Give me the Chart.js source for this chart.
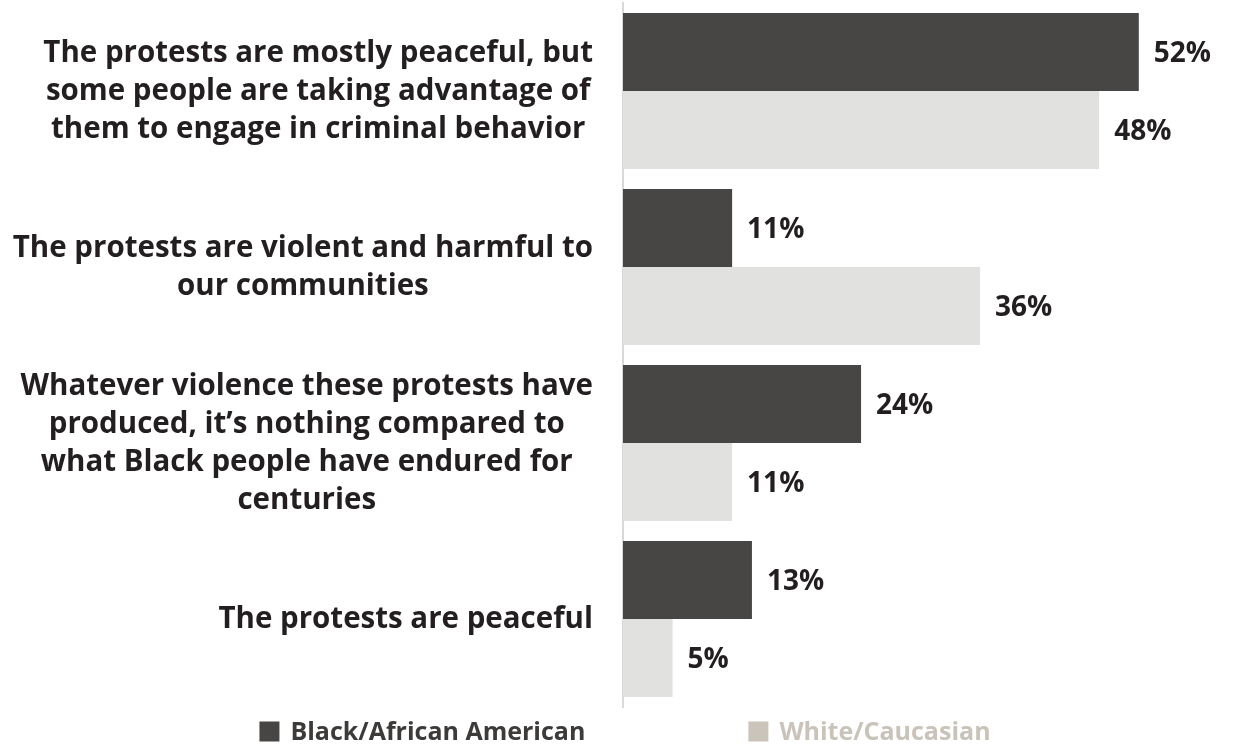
<!DOCTYPE html>
<html>
<head>
<meta charset="utf-8">
<script src="https://cdn.jsdelivr.net/npm/chart.js@4.4.1/dist/chart.umd.min.js"></script>
<style>
html,body{margin:0;padding:0;background:#fff;}
#wrap{width:1238px;height:745px;position:relative;}
</style>
</head>
<body>
<div id="wrap"><canvas id="c" width="1238" height="745"></canvas></div>
<script>
const categories = [
  ["The protests are mostly peaceful, but", "some people are taking advantage of", "them to engage in criminal behavior"],
  ["The protests are violent and harmful to", "our communities"],
  ["Whatever violence these protests have", "produced, it\u2019s nothing compared to", "what Black people have endured for", "centuries"],
  ["The protests are peaceful"]
];
const seriesNames = ["Black/African American", "White/Caucasian"];
const blackValues = [52, 11, 24, 13];
const whiteValues = [48, 36, 11, 5];

const FONT = "'Open Sans', Lato, sans-serif";
const barColors = ["#474644", "#e1e1e0"];
const legendColors = ["#474644", "#cac4ba"];
const legendTextColors = ["#3d3b39", "#c9c3b9"];

const yLabelPlugin = {
  id: 'yLabels',
  afterDraw(chart) {
    const ctx = chart.ctx;
    const y = chart.scales.y;
    const right = chart.chartArea.left - 30;
    const lh = 38;
    ctx.save();
    ctx.font = "700 29.5px " + FONT;
    ctx.fillStyle = "#231f20";
    ctx.textBaseline = "middle";
    ctx.textAlign = "center";
    categories.forEach((lines, i) => {
      const cy = y.getPixelForValue(i);
      const w = Math.max(...lines.map(l => ctx.measureText(l).width));
      const cx = right - w / 2;
      const top = cy - (lines.length - 1) * lh / 2;
      lines.forEach((l, k) => ctx.fillText(l, cx, top + k * lh + 1));
    });
    ctx.restore();
  }
};

const valueLabelPlugin = {
  id: 'valueLabels',
  afterDatasetsDraw(chart) {
    const ctx = chart.ctx;
    ctx.save();
    ctx.font = "700 28px " + FONT;
    ctx.fillStyle = "#231f20";
    ctx.textBaseline = "middle";
    ctx.textAlign = "left";
    chart.data.datasets.forEach((ds, di) => {
      chart.getDatasetMeta(di).data.forEach((bar, i) => {
        ctx.fillText(ds.data[i] + "%", bar.x + 15, bar.y + 2);
      });
    });
    ctx.restore();
  }
};

const legendPlugin = {
  id: 'customLegend',
  afterDraw(chart) {
    const ctx = chart.ctx;
    ctx.save();
    ctx.font = "700 25px " + FONT;
    ctx.textBaseline = "middle";
    ctx.textAlign = "left";
    const box = 20, gapText = 11, gapItems = 163;
    const widths = seriesNames.map(n => box + gapText + ctx.measureText(n).width);
    const total = widths[0] + gapItems + widths[1];
    let x = chart.width / 2 + 6 - total / 2;
    const cy = 731.5;
    seriesNames.forEach((n, i) => {
      ctx.fillStyle = legendColors[i];
      ctx.fillRect(x, cy - box / 2, box, box);
      ctx.fillStyle = legendTextColors[i];
      ctx.fillText(n, x + box + gapText, cy + 1);
      x += widths[i] + gapItems;
    });
    ctx.restore();
  }
};

new Chart(document.getElementById('c'), {
  type: 'bar',
  data: {
    labels: categories.map(c => c.join(' ')),
    datasets: [
      { label: seriesNames[0], data: blackValues, backgroundColor: barColors[0] },
      { label: seriesNames[1], data: whiteValues, backgroundColor: barColors[1] }
    ]
  },
  options: {
    indexAxis: 'y',
    responsive: false,
    animation: false,
    devicePixelRatio: 1,
    layout: { padding: { top: 3, right: 0, bottom: 38, left: 0 } },
    datasets: { bar: { categoryPercentage: 0.886, barPercentage: 1.0 } },
    plugins: { legend: { display: false }, tooltip: { enabled: false } },
    scales: {
      x: { display: false, min: 0, max: 62 },
      y: {
        grid: { display: false },
        ticks: { display: false },
        border: { display: true, color: "#d9d9d9", width: 2 },
        afterFit(scale) { scale.width = 623; }
      }
    }
  },
  plugins: [yLabelPlugin, valueLabelPlugin, legendPlugin]
});
</script>
</body>
</html>
